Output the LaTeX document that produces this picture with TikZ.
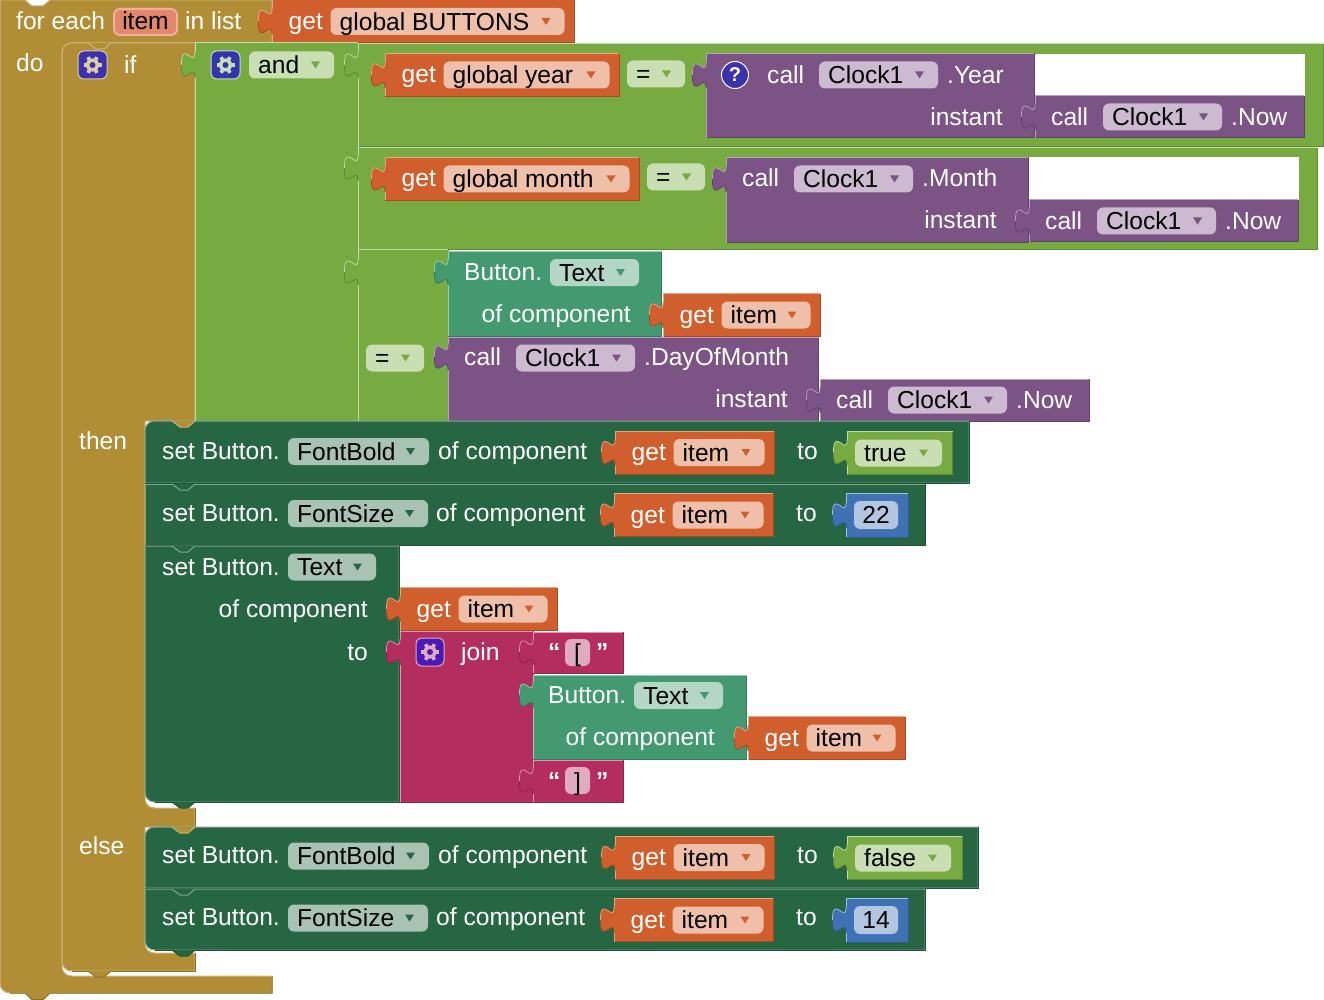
\documentclass[tikz,border=0pt]{standalone}
\usepackage{fontspec}
\setmainfont{Liberation Sans}
\usetikzlibrary{positioning}
\definecolor{gld}{HTML}{B18E35}\definecolor{gldlt}{HTML}{CDB67E}\definecolor{glddk}{HTML}{8E712A}
\definecolor{lgc}{HTML}{77AB41}\definecolor{lgclt}{HTML}{C2DBA8}\definecolor{lgcdk}{HTML}{5F8934}\definecolor{flgc}{HTML}{C9DFB3}
\definecolor{org}{HTML}{D05F2D}\definecolor{orglt}{HTML}{E7A688}\definecolor{orgdk}{HTML}{A64C24}\definecolor{forg}{HTML}{EFBFA9}
\definecolor{prp}{HTML}{7C5385}\definecolor{prplt}{HTML}{B8A0C0}\definecolor{prpdk}{HTML}{63426A}\definecolor{fprp}{HTML}{CBBAD0}
\definecolor{tel}{HTML}{439970}\definecolor{tellt}{HTML}{9CCBB4}\definecolor{teldk}{HTML}{357A5A}\definecolor{ftel}{HTML}{B4D6C6}
\definecolor{stm}{HTML}{266643}\definecolor{stmlt}{HTML}{7FA592}\definecolor{stmdk}{HTML}{1E5136}\definecolor{fstm}{HTML}{A8C2B4}
\definecolor{pnk}{HTML}{B32D5E}\definecolor{pnklt}{HTML}{DB97AF}\definecolor{pnkdk}{HTML}{8F244B}\definecolor{fpnk}{HTML}{E1ABBF}
\definecolor{blu}{HTML}{3F71B5}\definecolor{blult}{HTML}{A5BFE0}\definecolor{bludk}{HTML}{325A90}\definecolor{fblu}{HTML}{B2C6E1}
\definecolor{ifvio}{HTML}{3C32AE}\definecolor{andvio}{HTML}{3335B0}\definecolor{joinvio}{HTML}{4A1AB8}
\definecolor{gearif}{HTML}{DCCDA5}\definecolor{itemfld}{HTML}{E2866C}\definecolor{itemlt}{HTML}{EDB19D}
\tikzset{
  lbl/.style={text=white,anchor=base west,inner sep=0pt,font=\fontsize{24.6}{28}\selectfont},
  lblr/.style={lbl,anchor=base east},
  fldtxt/.style={lbl,text=black},
  fldmid/.style={fldtxt,anchor=base},
  quot/.style={lbl,font=\fontsize{24.6}{28}\selectfont\bfseries},
  edge/.style={line width=1pt},
}
% #1 colour, then x1,y1,x2,y2
\newcommand{\blk}[5]{
  \fill[#1] (#2,#3) rectangle (#4,#5);
  \draw[edge,#1dk] (#4,#3) -- (#4,#5) -- (#2,#5);
  \draw[edge,#1lt] (#2,#5) -- (#2,#3) -- (#4,#3);
}
% puzzle tab left of the edge x, centred on y
\newcommand{\ptab}[3]{
  \fill[#1] (#2+1,#3-12.75) -- (#2,#3-12.75) .. controls (#2,#3+4.25) and (#2-13.6,#3-26.35) .. (#2-13.6,#3)
    .. controls (#2-13.6,#3+26.35) and (#2,#3-4.25) .. (#2,#3+12.75) -- (#2+1,#3+12.75) -- cycle;
  \draw[line width=.7pt,#1lt] (#2,#3-12.75) .. controls (#2,#3+4.25) and (#2-13.6,#3-26.35) .. (#2-13.6,#3);
  \draw[line width=.9pt,#1dk] (#2-13.6,#3) .. controls (#2-13.6,#3+26.35) and (#2,#3-4.25) .. (#2,#3+12.75);
}
% name, x1, x2, yc, field colour, triangle colour, text
\newcommand{\ddfield}[7]{
  \fill[#5,rounded corners=6pt] (#2,#4-13.5) rectangle (#3,#4+13.5);
  \fill[#6] (#3-23,#4-3.5) -- (#3-14,#4-3.5) -- (#3-18.5,#4+3.5) -- cycle;
  \node (#1) at (#2+9,#4+8.7) [fldtxt] {#7};
}
% name, x1, x2, yc, text
\newcommand{\getvar}[5]{
  \blk{org}{#2}{#4-21.5}{#3-.8}{#4+21.5}
  \ptab{org}{#2}{#4}
  \node (#1get) at (#2+16.5,#4+8) [lbl] {get};
  \ddfield{#1var}{#2+58.5}{#3-10.5}{#4}{forg}{org}{#5}
}
% name, x, yc
\newcommand{\callnow}[3]{
  \blk{prp}{#2}{#3-21}{#2+269}{#3+21}
  \ptab{prp}{#2}{#3}
  \node (#1call) at (#2+16,#3+8.2) [lbl] {call};
  \ddfield{#1clk}{#2+68}{#2+187}{#3}{fprp}{prp}{Clock1}
  \node (#1now) at (#2+196,#3+8.2) [lbl] {.Now};
}
% name, x1, x2, yc, gear colour, box colour
\newcommand{\gearbox}[6]{
  \filldraw[fill=#6,draw=#5,line width=1pt,rounded corners=6pt] (#2,#4-14) rectangle (#3,#4+14);
  \coordinate (#1) at ({(#2+#3)/2},#4);
  \foreach \a in {0,60,...,300} \draw[#5,line width=3.6pt] (#1) -- +(\a:9);
  \fill[#5] (#1) circle (6.6);
  \fill[#6] (#1) circle (3);
}
% name, top, right, bottom, top radius, bottom radius
\newcommand{\stmt}[6]{
  \filldraw[fill=stm,draw=stmlt,edge] (145,#2+#5) .. controls (145,#2+.4*#5) and (145+.4*#5,#2) .. (145+#5,#2) -- (#3-.8,#2) -- (#3-.8,#4) -- (145+#6,#4)
    .. controls (145+.4*#6,#4) and (145,#4-.4*#6) .. (145,#4-#6) -- cycle;
  \draw[edge,stmdk] (#3-.8,#2) -- (#3-.8,#4) -- (145+#6,#4);
}
% fill, edge, left x, y
\newcommand{\notch}[4]{
  \fill[#1] (#3,#4) -- (#3+8,#4+6) -- (#3+16,#4+6) -- (#3+23,#4) -- cycle;
  \draw[edge,#2] (#3,#4) -- (#3+8,#4+6) -- (#3+16,#4+6) -- (#3+23,#4);
}
% name, yc, property, field end, of component x, to x
\newcommand{\setrow}[6]{
  \node (#1set) at (162,#2+7.8) [lbl] {set Button.};
  \ddfield{#1prop}{288}{#4}{#2}{fstm}{stm}{#3}
  \node (#1of) at (#5,#2+7.8) [lbl] {of component};
  \node (#1to) at (#6,#2+7.8) [lbl] {to};
}
\begin{document}
\begin{tikzpicture}[x=1pt,y=-1pt]
\useasboundingbox (0,0) rectangle (1324,1000);
\fill[white] (0,0) rectangle (1324,1000);
% for each
\filldraw[fill=gld,draw=gldlt,edge] (0,0) -- (25,0) -- (32,6) -- (43,6) -- (50,0) -- (272,0) -- (272,43) -- (72,43) .. controls (66,43) and (62,47) .. (62,53)
  -- (62,966) .. controls (62,972) and (66,976) .. (72,976) -- (272,976) -- (272,993) -- (50,993) -- (43,1000) -- (32,1000) -- (25,993) -- (10,993)
  .. controls (4,993) and (0,989) .. (0,983) -- cycle;
\draw[edge,glddk] (272,976) -- (272,993) -- (50,993) -- (43,999.5) -- (32,999.5) -- (25,993) -- (10,993);
% if
\filldraw[fill=gld,draw=gldlt,edge] (62,53) .. controls (62,47) and (66,43) .. (72,43) -- (195,43) -- (195,421) -- (145,421) -- (145,798) .. controls (145,804) and (149,808) .. (155,808)
  -- (195,808) -- (195,827) -- (145,827) -- (145,943) .. controls (145,949) and (149,953) .. (155,953) -- (195,953) -- (195,971) -- (72,971)
  .. controls (66,971) and (62,967) .. (62,961) -- cycle;
\draw[edge,glddk] (195,953) -- (195,971) -- (72,971);
\draw[edge,glddk] (195,808) -- (195,827);
\notch{gld}{glddk}{88}{971}
\notch{gld}{gldlt}{88}{43}
\node (forEach) at (16,29.5) [lbl] {for each};
\filldraw[fill=itemfld,draw=itemlt,line width=2pt,rounded corners=6pt] (114,9) rectangle (177,35);
\node (forItem) at (145.5,29.5) [fldmid] {item};
\node (inList) at (185,29.5) [lbl] {in list};
\getvar{buttons}{272}{575}{21.5}{global BUTTONS}
\node (doLbl) at (16,71.5) [lbl] {do};
\gearbox{ifGear}{78}{107}{65}{gearif}{ifvio}
\node (ifLbl) at (124,73.5) [lbl] {if};
\node (thenLbl) at (79,449.5) [lbl] {then};
\node (elseLbl) at (79,854) [lbl] {else};
% and
\blk{lgc}{195}{43}{358}{421}
\ptab{lgc}{195}{65}
\gearbox{andGear}{211}{240}{65}{flgc}{andvio}
\ddfield{andFld}{249}{334}{65}{flgc}{lgc}{and}
% year
\blk{lgc}{358}{44}{1323}{147}
\ptab{lgc}{358}{65}
\fill[white] (1034,54) rectangle (1305,96);
\getvar{year}{385}{620}{75}{global year}
\ddfield{eqA}{627}{685}{74}{flgc}{lgc}{=}
\blk{prp}{706}{53.5}{1034}{138}
\ptab{prp}{706}{75}
\filldraw[fill=ifvio,draw=white,line width=1pt] (735,75) circle (13.5);
\node (askA) at (735,82) [lbl,anchor=base,font=\fontsize{20}{24}\selectfont\bfseries] {?};
\node (callYear) at (767,83.5) [lbl] {call};
\ddfield{clkYear}{819}{938}{75}{fprp}{prp}{Clock1}
\node (dotYear) at (947,83.5) [lbl] {.Year};
\node (instYear) at (1003,125.5) [lblr] {instant};
\callnow{nowA}{1035}{117}
% month
\blk{lgc}{358}{148}{1317}{250}
\ptab{lgc}{358}{168}
\fill[white] (1028,157) rectangle (1299,200);
\getvar{month}{385}{640}{179}{global month}
\ddfield{eqB}{647}{705}{177}{flgc}{lgc}{=}
\blk{prp}{726}{157.5}{1028}{243}
\ptab{prp}{726}{179}
\node (callMonth) at (742,187) [lbl] {call};
\ddfield{clkMonth}{794}{913}{179}{fprp}{prp}{Clock1}
\node (dotMonth) at (922,187) [lbl] {.Month};
\node (instMonth) at (997,229) [lblr] {instant};
\callnow{nowB}{1029}{221}
% day
\blk{lgc}{358}{250}{448}{421}
\ptab{lgc}{358}{272}
\ddfield{eqC}{366}{424}{358}{flgc}{lgc}{=}
\blk{tel}{448}{252}{661.5}{336}
\ptab{tel}{448}{272}
\node (btnA) at (464,280.5) [lbl] {Button.};
\ddfield{btnAFld}{550}{639}{272.5}{ftel}{tel}{Text}
\node (ofA) at (631,322.5) [lblr] {of component};
\getvar{itemA}{663}{821}{315}{item}
\blk{prp}{448}{337}{818.5}{421}
\ptab{prp}{448}{357}
\node (callDay) at (464,365.5) [lbl] {call};
\ddfield{clkDay}{516}{635}{358}{fprp}{prp}{Clock1}
\node (dotDay) at (644,365.5) [lbl] {.DayOfMonth};
\node (instDay) at (788,407.5) [lblr] {instant};
\callnow{nowC}{820}{400}
% then
\stmt{setA}{421}{970}{483}{10}{0}
\notch{gld}{gldlt}{172}{421}
\setrow{setA}{451.5}{FontBold}{429}{438}{797}
\getvar{itemB}{615}{775}{452.5}{item}
\blk{lgc}{847}{431}{952.5}{474}
\ptab{lgc}{847}{452.5}
\ddfield{trueFld}{855}{942}{453}{flgc}{lgc}{true}
\stmt{setB}{484}{926}{545}{0}{0}
\notch{stm}{stmlt}{172}{484}
\setrow{setB}{513.5}{FontSize}{428}{436}{796}
\getvar{itemC}{614}{774}{515}{item}
\blk{blu}{846}{493}{908}{537}
\ptab{blu}{846}{515}
\fill[fblu,rounded corners=6pt] (854,501) rectangle (898,529);
\node (numA) at (876,523.5) [fldmid] {22};
\stmt{setC}{546}{400}{802}{0}{10}
\notch{stm}{stmlt}{172}{546}
\notch{stm}{stmdk}{172}{802}
\node (setCset) at (162,575) [lbl] {set Button.};
\ddfield{setCprop}{288}{376}{567}{fstm}{stm}{Text}
\node (ofC) at (368,617) [lblr] {of component};
\node (toC) at (368,660) [lblr] {to};
\getvar{itemD}{400}{558}{609}{item}
\blk{pnk}{400}{631}{533}{802}
\ptab{pnk}{400}{652}
\gearbox{joinGear}{416}{444}{652}{fpnk}{joinvio}
\node (joinLbl) at (461,660) [lbl] {join};
\blk{pnk}{533}{632}{623}{673}
\ptab{pnk}{533}{652}
\node (qOpenA) at (548,660) [quot] {“};
\fill[fpnk,rounded corners=6pt] (565,639) rectangle (590,666);
\node (brkOpen) at (577.5,661) [fldmid] {[};
\node (qCloseA) at (596,660) [quot] {”};
\blk{tel}{533}{675}{746.5}{759}
\ptab{tel}{533}{695}
\node (btnB) at (548,703.5) [lbl] {Button.};
\ddfield{btnBFld}{634}{723}{695.5}{ftel}{tel}{Text}
\node (ofB) at (715,745.5) [lblr] {of component};
\getvar{itemE}{748}{906}{738}{item}
\blk{pnk}{533}{760}{623}{802}
\ptab{pnk}{533}{781}
\node (qOpenB) at (548,789) [quot] {“};
\fill[fpnk,rounded corners=6pt] (565,767) rectangle (590,794);
\node (brkClose) at (577.5,790) [fldmid] {]};
\node (qCloseB) at (596,789) [quot] {”};
% else
\stmt{setD}{827}{979}{888}{10}{0}
\notch{gld}{gldlt}{172}{827}
\setrow{setD}{856}{FontBold}{429}{438}{797}
\getvar{itemF}{615}{775}{857.5}{item}
\blk{lgc}{847}{836}{962}{879}
\ptab{lgc}{847}{857.5}
\ddfield{falseFld}{855}{951}{858}{flgc}{lgc}{false}
\stmt{setE}{889}{926}{950}{0}{10}
\notch{stm}{stmlt}{172}{889}
\notch{stm}{stmdk}{172}{950}
\setrow{setE}{918}{FontSize}{428}{436}{796}
\getvar{itemG}{614}{774}{920}{item}
\blk{blu}{846}{898}{908}{942}
\ptab{blu}{846}{920}
\fill[fblu,rounded corners=6pt] (854,906) rectangle (898,934);
\node (numB) at (876,928.5) [fldmid] {14};
\end{tikzpicture}
\end{document}
